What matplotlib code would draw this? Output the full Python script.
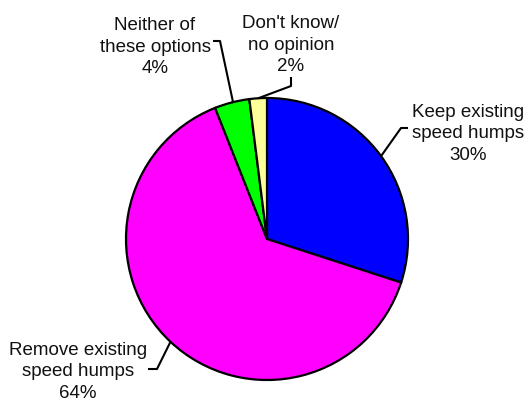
import numpy as np
import matplotlib
matplotlib.use("Agg")
import matplotlib.pyplot as plt

labels = ["Keep existing\nspeed humps", "Remove existing\nspeed humps",
          "Neither of\nthese options", "Don't know/\nno opinion"]
values = [30, 64, 4, 2]
colors = ["#0000FF", "#FF00FF", "#00FF00", "#FFFF99"]

W, H = 527, 406
fig = plt.figure(figsize=(W / 100, H / 100), dpi=100)
ax = fig.add_axes([0, 0, 1, 1])

cx, cy, R = 267, H - 240, 141
wedges, _ = ax.pie(values, colors=colors, startangle=90, counterclock=False,
                   center=(cx, cy), radius=R, frame=True,
                   wedgeprops=dict(edgecolor="black", linewidth=1.6))
ax.set_xlim(0, W)
ax.set_ylim(0, H)
ax.set_aspect("equal")
ax.axis("off")

# label block centers (pixel, top-origin) and leader elbows
text_pos = [(468, 134), (78, 372), (155, 47), (291, 45)]
elbows = [[(401, 129), (408, 129)], [(157, 370), (148, 370)],
          [(233, 103), (220, 42), (213, 42)], [(291, 87), (291, 78)]]

for w, lab, v, tp, el in zip(wedges, labels, values, text_pos, elbows):
    mid = np.deg2rad((w.theta1 + w.theta2) / 2)
    p0 = (cx + R * np.cos(mid), cy + R * np.sin(mid))
    pts = [p0] + [(x, H - y) for x, y in el]
    xs, ys = zip(*pts)
    ax.plot(xs, ys, color="black", lw=1.5, solid_capstyle="butt", zorder=5)
    ax.text(tp[0], H - tp[1], f"{lab}\n{v}%", ha="center", va="center",
            fontsize=13.5, family="Liberation Sans", color="#111111",
            linespacing=1.38)

fig.savefig("out.png", dpi=100)
